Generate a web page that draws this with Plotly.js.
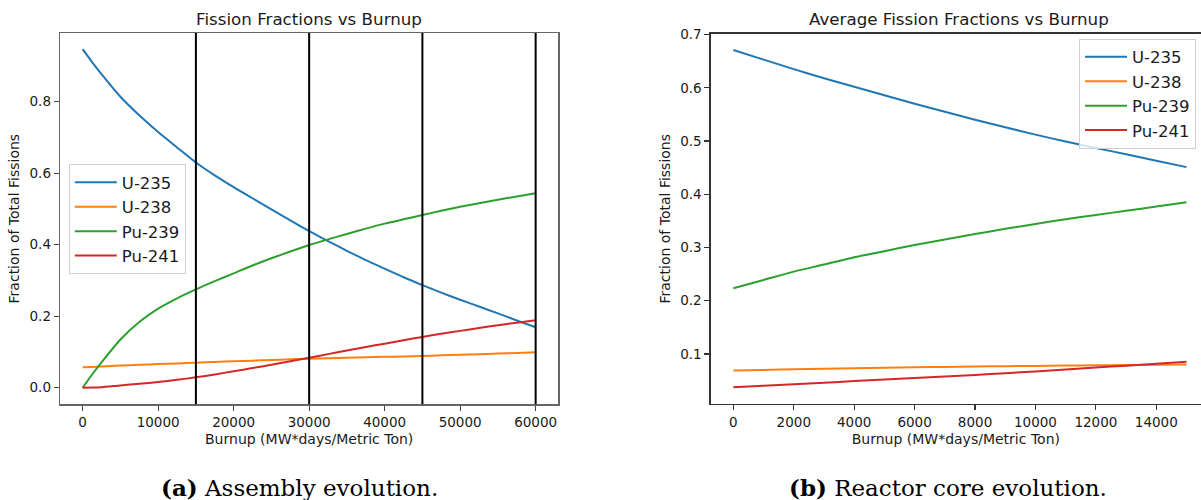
<!DOCTYPE html>
<html>
<head>
<meta charset="utf-8">
<script src="https://cdn.plot.ly/plotly-3.0.1.min.js"></script>
<style>html,body{margin:0;padding:0;background:#fff;}#chart{width:1201px;height:500px;}</style>
</head>
<body>
<div id="chart"></div>
<script>
// ---------- data: (a) assembly evolution ----------
const burnupA = [0, 1250, 2500, 5000, 7500, 10000, 12500, 15000, 17500, 20000, 22500, 25000, 27500, 30000,
                 32500, 35000, 37500, 40000, 42500, 45000, 47500, 50000, 52500, 55000, 57500, 60000];
const u235A  = [0.947, 0.911, 0.877, 0.814, 0.762, 0.715, 0.672, 0.630, 0.594, 0.561, 0.530, 0.499, 0.468, 0.438,
                0.410, 0.383, 0.357, 0.333, 0.309, 0.287, 0.266, 0.246, 0.227, 0.208, 0.188, 0.169];
const u238A  = [0.057, 0.058, 0.059, 0.062, 0.064, 0.066, 0.068, 0.070, 0.072, 0.074, 0.0757, 0.0775, 0.0793, 0.081,
                0.0824, 0.0838, 0.085, 0.0863, 0.0875, 0.0887, 0.0905, 0.092, 0.0937, 0.0955, 0.0972, 0.099];
const pu239A = [0.000, 0.037, 0.071, 0.135, 0.184, 0.221, 0.250, 0.275, 0.298, 0.320, 0.342, 0.362, 0.381, 0.399,
                0.415, 0.430, 0.445, 0.459, 0.471, 0.483, 0.495, 0.506, 0.516, 0.526, 0.535, 0.544];
const pu241A = [0.000, 0.0004, 0.0015, 0.0065, 0.011, 0.016, 0.022, 0.029, 0.037, 0.046, 0.055, 0.064, 0.074, 0.084,
                0.094, 0.104, 0.114, 0.123, 0.133, 0.142, 0.151, 0.159, 0.167, 0.175, 0.182, 0.189];
const cycleEnds = [15000, 30000, 45000, 60000];

// ---------- data: (b) reactor core evolution ----------
const burnupB = [0, 1000, 2000, 3000, 4000, 5000, 6000, 7000, 8000, 9000, 10000, 11000, 12000, 13000, 14000, 15000];
const u235B  = [0.671, 0.653, 0.635, 0.618, 0.602, 0.586, 0.570, 0.555, 0.540, 0.526, 0.512, 0.499, 0.487, 0.475, 0.463, 0.451];
const u238B  = [0.0687, 0.0700, 0.0712, 0.0723, 0.0733, 0.0742, 0.0750, 0.0757, 0.0764, 0.0770, 0.0776, 0.0782, 0.0787, 0.0792, 0.0797, 0.0802];
const pu239B = [0.2235, 0.239, 0.2547, 0.268, 0.2817, 0.293, 0.3048, 0.315, 0.3254, 0.335, 0.3442, 0.353, 0.3611, 0.369, 0.377, 0.385];
const pu241B = [0.0375, 0.0402, 0.0430, 0.0460, 0.0490, 0.0519, 0.0548, 0.0577, 0.0607, 0.0639, 0.0672, 0.0708, 0.0745, 0.0780, 0.0815, 0.0855];

const isotopes = ['U-235', 'U-238', 'Pu-239', 'Pu-241'];
const colors = ['#1f77b4', '#ff7f0e', '#2ca02c', '#d62728'];

const seriesA = [u235A, u238A, pu239A, pu241A];
const seriesB = [u235B, u238B, pu239B, pu241B];

const W = 1201, H = 500;
const px = v => v / W;
const py = v => 1 - v / H;

const traces = [];
isotopes.forEach((name, i) => {
  traces.push({x: burnupA, y: seriesA[i], name: name, type: 'scatter', mode: 'lines',
    line: {color: colors[i], width: 2, shape: 'spline', smoothing: 0.6}, xaxis: 'x', yaxis: 'y', legend: 'legend'});
});
isotopes.forEach((name, i) => {
  traces.push({x: burnupB, y: seriesB[i], name: name, type: 'scatter', mode: 'lines',
    line: {color: colors[i], width: 2, shape: 'spline', smoothing: 0.6}, xaxis: 'x2', yaxis: 'y2', legend: 'legend2'});
});

const FONT = 'DejaVu Sans, sans-serif';
const TXT = '#1a1a1a';
const tickFont = {family: FONT, size: 13.5, color: TXT};
const titleFont = {family: FONT, size: 14, color: TXT};

const axCommon = {
  showgrid: false, zeroline: false, showline: true, ticks: 'outside', ticklen: 5, tickwidth: 1.2,
  tickfont: tickFont
};

const shapes = cycleEnds.map(b => ({
  type: 'line', xref: 'x', yref: 'y domain', x0: b, x1: b, y0: 0, y1: 1,
  line: {color: '#000', width: 2}, layer: 'above'
}));

const layout = {
  width: W, height: H, autosize: false,
  margin: {l: 0, r: 0, t: 0, b: 0, pad: 0},
  paper_bgcolor: '#fff', plot_bgcolor: '#fff',
  showlegend: true,
  xaxis: Object.assign({}, axCommon, {
    domain: [px(60), px(558.3)], range: [-3000, 63000], tickvals: [0, 10000, 20000, 30000, 40000, 50000, 60000],
    tickformat: 'd', mirror: true, linecolor: '#666', tickcolor: '#444', linewidth: 1.3,
    title: {text: 'Burnup (MW*days/Metric Ton)', font: titleFont, standoff: 5}
  }),
  yaxis: Object.assign({}, axCommon, {
    domain: [py(404.3), py(33)], range: [-0.0464, 0.9922], tickvals: [0, 0.2, 0.4, 0.6, 0.8],
    tickformat: '.1f', mirror: true, linecolor: '#666', tickcolor: '#444', linewidth: 1.3,
    title: {text: 'Fraction of Total Fissions', font: titleFont, standoff: 6}
  }),
  xaxis2: Object.assign({}, axCommon, {
    domain: [px(710.7), 1], range: [-750, 15480], tickvals: [0, 2000, 4000, 6000, 8000, 10000, 12000, 14000],
    tickformat: 'd', mirror: true, linecolor: '#333', tickcolor: '#333', linewidth: 1.3, anchor: 'y2',
    title: {text: 'Burnup (MW*days/Metric Ton)', font: titleFont, standoff: 5}
  }),
  yaxis2: Object.assign({}, axCommon, {
    domain: [py(404), py(33.5)], range: [0.006, 0.702], tickvals: [0.1, 0.2, 0.3, 0.4, 0.5, 0.6, 0.7],
    tickformat: '.1f', mirror: false, linecolor: '#333', tickcolor: '#333', linewidth: 1.3, anchor: 'x2',
    title: {text: 'Fraction of Total Fissions', font: titleFont, standoff: 6}
  }),
  legend: {
    x: px(68.8), y: py(164), xanchor: 'left', yanchor: 'top', itemwidth: 42,
    font: {family: FONT, size: 16.5, color: TXT},
    bgcolor: 'rgba(255,255,255,0.8)', bordercolor: '#d0d0d0', borderwidth: 1
  },
  legend2: {
    x: px(1196), y: py(38.5), xanchor: 'right', yanchor: 'top', itemwidth: 42,
    font: {family: FONT, size: 16.5, color: TXT},
    bgcolor: 'rgba(255,255,255,0.8)', bordercolor: '#d0d0d0', borderwidth: 1
  },
  shapes: shapes,
  annotations: [
    {text: 'Fission Fractions vs Burnup', xref: 'paper', yref: 'paper', x: px(309.2), y: py(19),
     xanchor: 'center', yanchor: 'middle', showarrow: false, font: {family: FONT, size: 16.7, color: TXT}},
    {text: 'Average Fission Fractions vs Burnup', xref: 'paper', yref: 'paper', x: px(959.5), y: py(19),
     xanchor: 'center', yanchor: 'middle', showarrow: false, font: {family: FONT, size: 16.7, color: TXT}},
    {text: '<b>(a)</b> Assembly evolution.', xref: 'paper', yref: 'paper', x: px(299), y: py(487),
     xanchor: 'center', yanchor: 'middle', showarrow: false, font: {family: 'DejaVu Serif, serif', size: 23, color: '#000'}},
    {text: '<b>(b)</b> Reactor core evolution.', xref: 'paper', yref: 'paper', x: px(947.5), y: py(487),
     xanchor: 'center', yanchor: 'middle', showarrow: false, font: {family: 'DejaVu Serif, serif', size: 23, color: '#000'}}
  ]
};

Plotly.newPlot('chart', traces, layout, {displayModeBar: false, staticPlot: true});
</script>
</body>
</html>
